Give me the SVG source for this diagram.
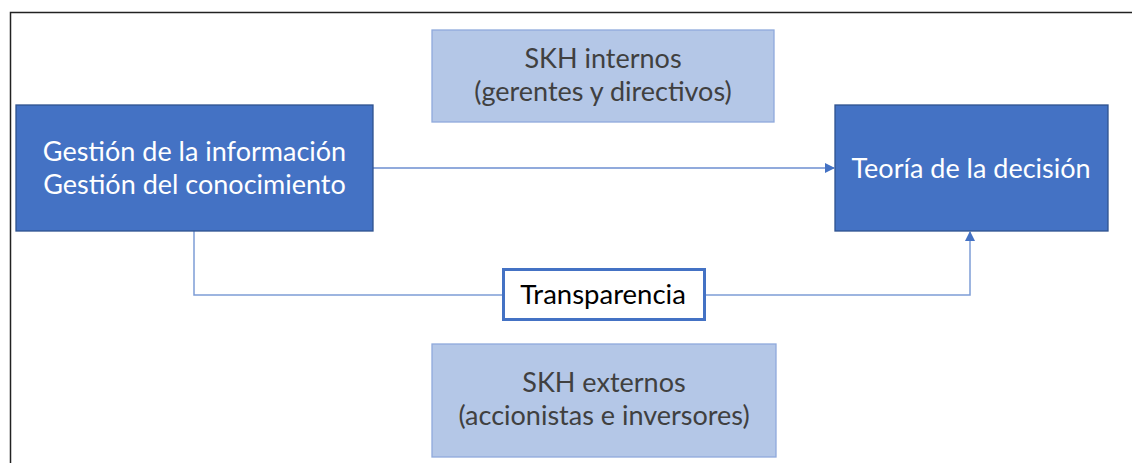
<svg xmlns="http://www.w3.org/2000/svg" width="1132" height="463" viewBox="0 0 1132 463">
<style>
.dark{fill:#4472C4;stroke:#2F528F;stroke-width:1.3}
.light{fill:#B4C7E7;stroke:#8FAADC;stroke-width:1.3}
.tw{font-family:Lato,"Open Sans",sans-serif;font-size:27px;fill:#ffffff;text-anchor:middle}
.tg{font-family:Lato,"Open Sans",sans-serif;font-size:27px;fill:#404040;text-anchor:middle}
.tb{font-family:Lato,"Open Sans",sans-serif;font-size:27.5px;fill:#000000;text-anchor:middle}
.conn{fill:none;stroke:#7D9DD6;stroke-width:1.5}
</style>
<defs>
<marker id="arr2" viewBox="0 0 10 10" refX="9" refY="5" markerWidth="10" markerHeight="10" orient="auto" markerUnits="userSpaceOnUse">
<path d="M0,0 L10,5 L0,10 z" fill="#4472C4"/>
</marker>
</defs>
<rect width="1132" height="463" fill="#ffffff"/>
<path d="M10.5,463 V12.5 H1132" fill="none" stroke="#222" stroke-width="1.5"/>
<g id="connectors">
<line class="conn" x1="373" y1="168" x2="834" y2="168" marker-end="url(#arr2)" style="stroke:#6D8ED0"/>
<path class="conn" d="M194,231 V295 H502"/>
<path class="conn" d="M706,295 H970 V232" marker-end="url(#arr2)"/>
</g>
<g id="internos">
<rect class="light" x="432" y="30" width="342" height="92"/>
<text class="tg" x="603" y="68">SKH internos</text>
<text class="tg" x="603" y="101">(gerentes y directivos)</text>
</g>
<g id="gestion">
<rect class="dark" x="16" y="105" width="357" height="126"/>
<text class="tw" x="194.5" y="161">Gestión de la información</text>
<text class="tw" x="194.5" y="194">Gestión del conocimiento</text>
</g>
<g id="teoria">
<rect class="dark" x="835" y="105" width="273" height="126"/>
<text class="tw" x="971" y="178">Teoría de la decisión</text>
</g>
<g id="transparencia">
<rect x="503.5" y="269.5" width="201" height="50" fill="#ffffff" stroke="#4472C4" stroke-width="3"/>
<text class="tb" x="603" y="304">Transparencia</text>
</g>
<g id="externos">
<rect class="light" x="432" y="344" width="344" height="113"/>
<text class="tg" x="604" y="392">SKH externos</text>
<text class="tg" x="604" y="425">(accionistas e inversores)</text>
</g>
</svg>
